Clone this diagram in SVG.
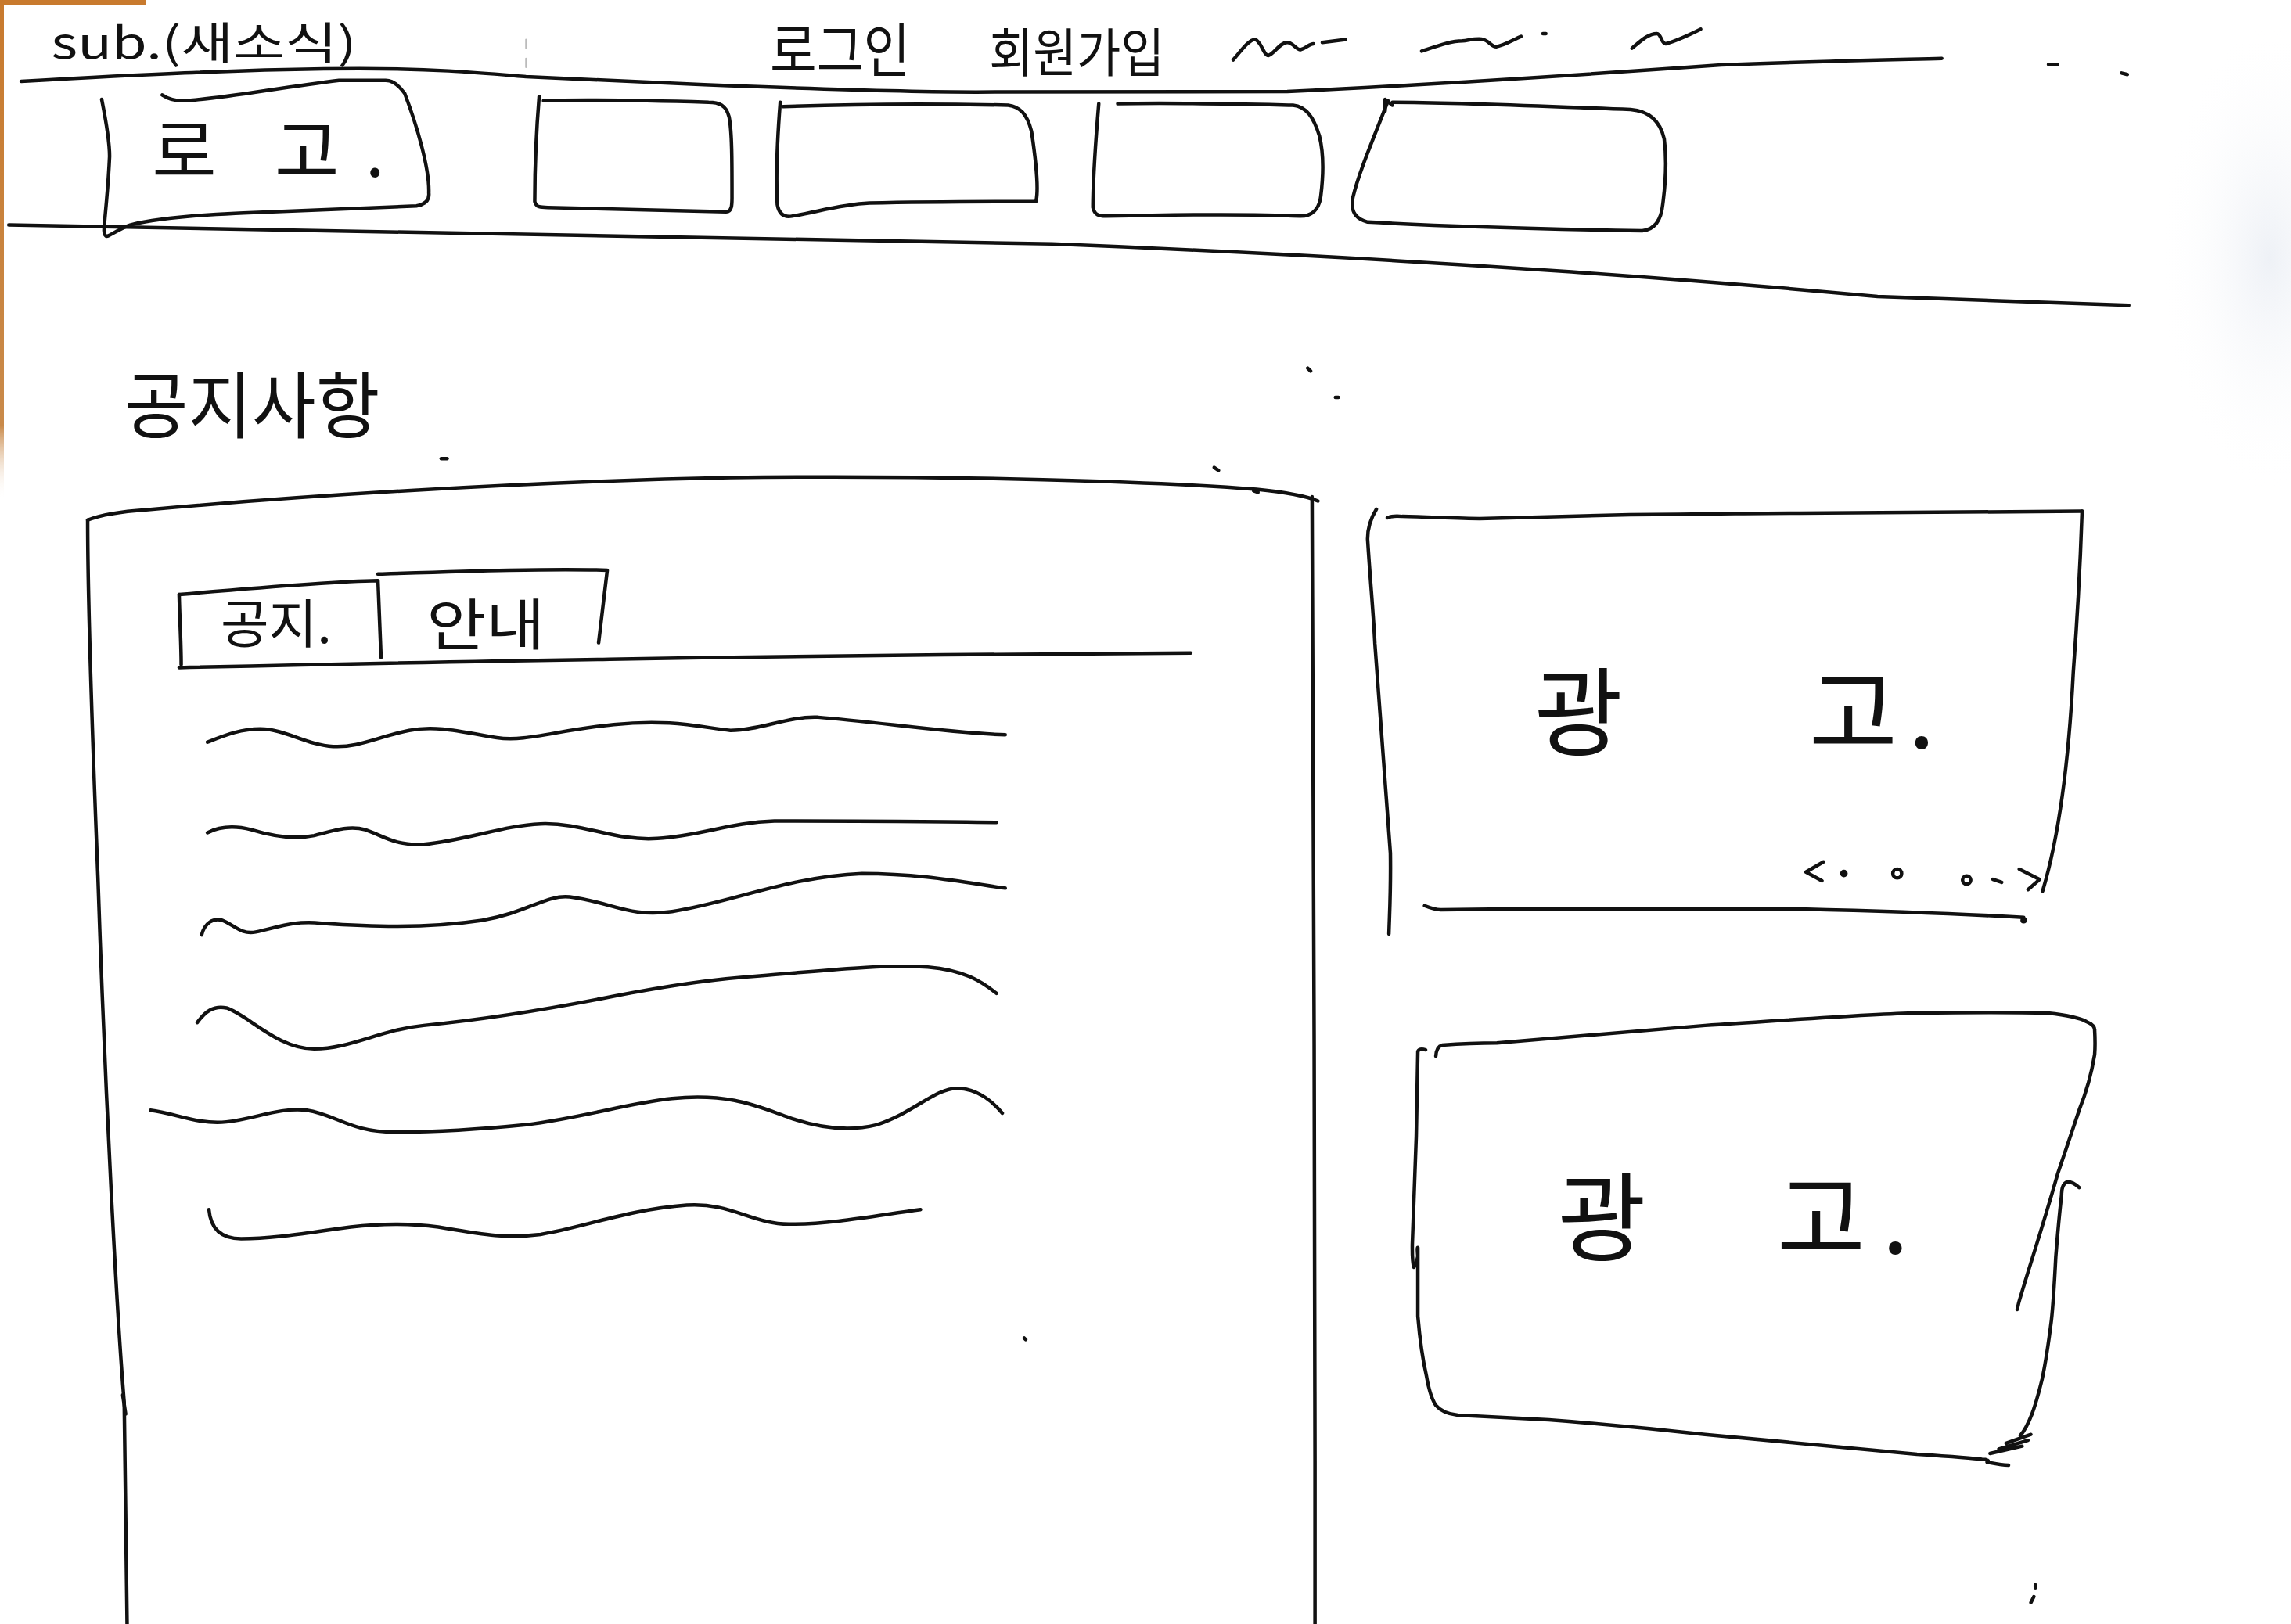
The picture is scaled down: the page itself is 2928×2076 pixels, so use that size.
<svg xmlns="http://www.w3.org/2000/svg" width="2928" height="2076" viewBox="0 0 2928 2076">
<defs>
<style>
.s{fill:none;stroke:#111;stroke-width:4.5;vector-effect:non-scaling-stroke;stroke-linecap:round;stroke-linejoin:round}
.f{fill:#111;stroke:none}
.t{font-family:"Noto Sans CJK KR","Noto Sans",sans-serif;fill:#111;font-weight:400}
</style>
<radialGradient id="shade" cx="0.5" cy="0.5" r="0.5">
<stop offset="0" stop-color="#eef1f6"/>
<stop offset="1" stop-color="#ffffff" stop-opacity="0"/>
</radialGradient>
<linearGradient id="edge" x1="0" y1="0" x2="0" y2="1">
<stop offset="0" stop-color="#c87a2e"/>
<stop offset="0.85" stop-color="#c98a4a"/>
<stop offset="1" stop-color="#ffffff" stop-opacity="0"/>
</linearGradient>
</defs>
<rect width="2928" height="2076" fill="#ffffff"/>
<rect x="0" y="0" width="187" height="6" fill="#c87a2e"/>
<rect x="0" y="0" width="5" height="640" fill="url(#edge)"/>
<ellipse cx="2900" cy="330" rx="140" ry="300" fill="url(#shade)"/>

<g transform="scale(1.86735)">
  <g id="header">
    <text class="t" x="35" y="40" font-size="30" textLength="209" lengthAdjust="spacingAndGlyphs">sub.(새소식)</text>
    <path class="s" d="M14.5,55.7 C80,52 170,47 246,47 C300,47 330,50 360,52.5 C420,55 460,57 482,58 C560,61 620,63 668,63 C760,63 830,63 881,62.7 C980,58 1100,50 1178,44.5 C1240,42 1290,41 1329,40"/>
    <path class="s" d="M360,27 L360,33 M360,40 L360,46" style="stroke:#bbb;stroke-width:2"/>
    <text class="t" x="527" y="49" font-size="40" textLength="96" lengthAdjust="spacingAndGlyphs">로그인</text>
    <text class="t" x="677" y="49" font-size="36" textLength="120" lengthAdjust="spacingAndGlyphs">회원가입</text>
    <path class="s" d="M844,41 C850,34 855,27 859,27 C863,28 865,38 868,38 C872,37 876,29 881,29 C885,29 887,34 890,34 C894,33 896,30 899,30"/>
    <path class="s" d="M905,29 L921,27"/>
    <path class="s" d="M973,35 C985,31 993,28 1001,28 C1008,27 1012,26 1015,27 C1019,28 1021,32 1024,32 C1030,31 1036,27 1041,25"/>
    <path class="s" d="M1056,23 L1058,23"/>
    <path class="s" d="M1117,33 C1123,28 1128,23 1134,23 C1137,23 1137,30 1140,30 C1148,28 1156,24 1164,20"/>
    <path class="s" d="M1402,44 L1408,44 M1452,50 L1456,51"/>
    <path class="s" d="M6,154 C200,157 450,160 720,167 C1000,178 1200,195 1285,203 C1380,206 1430,208 1457,209"/>
  </g>

  <g id="logo">
    <path class="s" d="M69.6,68 C73,85 75,100 75,107 C74,130 72,145 71.2,157 C71,160 72,163 75,161 C82,157 86,155 89,154 C110,149 140,147 161,146 C210,144 260,142 285,141 C291,140 294,137 293.5,132 C294,115 285,85 277,64 C272,57 268,55 264,55 C250,55 240,55 232,55 C190,60 150,68 125,69 C118,69 114,67 111,65"/>
    <text class="t" font-size="48" y="121"><tspan x="104">로</tspan><tspan x="188">고</tspan><tspan x="250">.</tspan></text>
  </g>

  <g id="menu1">
    <path class="s" d="M369,66 C367,90 366,115 366,138 C367,142 370,142 375,142 C420,143 465,144 497,145 C501,145 501,140 501,135 C501,110 501,90 499,80 C497,72 492,70 485,70 C450,69 400,68 372,69"/>
  </g>
  <g id="menu2">
    <path class="s" d="M534,70 C532,95 531,120 532,140 C533,146 536,149 542,148 C560,145 575,140 595,139 C640,138 680,138 709,138 C711,130 709,110 706,90 C703,78 698,73 690,72 C640,71 590,71 536,73"/>
  </g>
  <g id="menu3">
    <path class="s" d="M752,71 C750,95 748,120 748,142 C749,147 752,148 757,148 C800,147 850,146 890,148 C898,148 903,143 904,134 C906,118 906,105 903,93 C899,80 894,73 885,72 C840,71 800,70 765,71"/>
  </g>
  <g id="menu4">
    <path class="s" d="M950,69 C940,95 930,118 926,135 C924,145 928,150 936,152 C990,155 1070,157 1124,158 C1133,157 1137,150 1138,140 C1140,125 1141,110 1139,95 C1136,82 1128,76 1116,75 C1060,73 1000,70 953,70"/>
    <path class="s" d="M948,76 L948,68 L953,72"/>
  </g>

  <g id="notice-title">
    <text class="t" x="85" y="296" font-size="50" textLength="175" lengthAdjust="spacingAndGlyphs">공지사항</text>
    <path class="s" d="M302,314 L306,314"/>
  </g>

  <g id="notice-panel">
    <path class="s" d="M60,356 C70,352 85,350 100,349 C200,340 350,330 500,327 C650,325 800,330 860,335 C880,337 895,340 902,343"/>
    <path class="s" d="M60,356 C60,400 63,500 67,600 C72,750 80,900 85,960 L87,1112"/>
    <path class="s" d="M84,955 L86,968"/>
    <path class="s" d="M898,340 C900,500 899,800 900,1000 L900,1112"/>
    <path class="s" d="M831,320 L834,322 M858,336 L861,337"/>
  </g>

  <g id="tabs">
    <path class="s" d="M122.6,407 C123,425 124,440 124,455"/>
    <path class="s" d="M122.6,407 C180,402 230,398 258.7,397.5 L260.8,450"/>
    <path class="s" d="M122.6,457 C300,453 500,449 815,447"/>
    <path class="s" d="M258.7,393 C320,391 380,389 415.6,390.4 L409.7,440"/>
    <text class="t" x="151" y="440" font-size="36" textLength="76" lengthAdjust="spacingAndGlyphs">공지.</text>
    <text class="t" x="292" y="441" font-size="38" textLength="81" lengthAdjust="spacingAndGlyphs">안내</text>
  </g>

  <g id="notice-list">
    <path class="s" d="M142,508 C155,503 165,499 178,499 C195,499 210,510 228,511 C245,512 260,504 280,500 C300,496 320,502 340,505 C360,508 380,500 420,496 C460,492 480,498 500,500 C520,500 540,490 560,491 C600,494 650,502 688,503"/>
    <path class="s" d="M142,570 C150,566 160,565 172,568 C185,572 200,575 215,572 C230,568 240,565 250,568 C262,572 270,579 290,578 C320,575 345,565 370,564 C400,563 420,576 450,574 C480,572 500,563 530,562 C580,562 630,562 682,563"/>
    <path class="s" d="M138,640 C140,632 146,628 152,630 C160,633 165,640 175,638 C190,635 200,630 220,632 C250,634 290,636 330,630 C360,625 375,612 390,614 C420,618 430,628 460,624 C500,618 540,600 590,598 C630,598 660,604 688,608"/>
    <path class="s" d="M135,700 C140,693 146,688 155,690 C170,695 190,718 215,718 C240,718 260,705 290,702 C330,698 380,690 420,682 C460,674 490,670 520,668 C560,665 600,660 635,662 C660,664 672,672 682,680"/>
    <path class="s" d="M103,760 C120,762 135,770 155,768 C175,766 190,758 210,760 C230,763 240,775 270,775 C300,775 330,773 360,770 C400,765 430,755 460,752 C500,748 520,758 540,765 C560,772 580,775 600,770 C625,762 640,745 655,745 C670,745 680,755 686,762"/>
    <path class="s" d="M143,828 C144,840 150,848 165,848 C190,848 215,843 240,840 C265,837 285,838 300,840 C330,845 345,848 370,845 C400,840 430,828 470,825 C500,823 515,838 540,838 C570,838 600,832 630,828"/>
  </g>

  <g id="ad1">
    <path class="s" d="M942,348.6 C938,355 936,362 936,369 C938,400 940,420 941,440.7 C945,500 949,550 951.6,584 C952,610 951,625 950.6,639.4"/>
    <path class="s" d="M949.5,354.5 C953,353 956,353 959.7,353.5 C980,354 1000,355 1012.7,355 C1060,354 1090,353 1115.5,352.4 C1180,352 1210,351 1231.7,351.3 C1320,351 1380,350 1425,350"/>
    <path class="s" d="M1425,350 C1424,380 1422,420 1419,460 C1416,520 1410,570 1398,610"/>
    <path class="s" d="M975,620 C980,622 983,623 986.5,622.8 C1040,622 1080,622 1115.5,622.3 C1180,622 1210,622 1231.7,622.3 C1300,624 1350,626 1385,628"/>
    <circle class="f" cx="1385" cy="630" r="2.2"/>
    <text class="t" font-size="66" y="512"><tspan x="1050">광</tspan><tspan x="1238">고</tspan><tspan x="1306">.</tspan></text>
    <path class="s" d="M1248,590 L1236,597 L1247,603"/>
    <circle class="f" cx="1262" cy="598" r="2.6"/>
    <circle class="s" cx="1298.5" cy="598" r="3"/>
    <circle class="s" cx="1346" cy="602.5" r="2.8"/>
    <path class="s" d="M1364,602 L1370,604"/>
    <path class="s" d="M1382,595 L1396,602 L1388,609"/>
  </g>

  <g id="ad2">
    <path class="s" d="M982.7,723 C983,718 985,716 987,715.5 C1000,714.5 1012,714 1024.5,714 C1080,709 1130,705 1167,702 C1230,698 1280,694 1312,693.5 C1350,693 1380,693 1401.5,693.5 C1415,695 1424,697 1428,699.4 C1432,701 1433.6,703 1433.6,705 C1434,712 1434,717 1433.6,722 C1431,738 1427,750 1423,760 C1418,775 1413,790 1408.5,803 C1398,840 1388,870 1381.7,891.7 L1380.6,896.5"/>
    <path class="s" d="M1423,813 C1420,810 1417,809 1415,809 C1412,810 1411,813 1411,818 C1409,835 1408,848 1407,860.6 C1406,880 1405,895 1404,904 C1402,920 1400,933 1397.7,944 C1395,955 1393,962 1390.7,968 C1388,975 1386,979 1382.7,982.7"/>
    <path class="s" d="M1373,988 L1390,982 M1368,992 L1388,986 M1362,995 L1384,990"/>
    <path class="s" d="M975.7,718.7 C973,718 971,718.5 970.4,719.7 C970,740 969.5,760 969.3,778 C968,810 967,835 966.6,852 C966.5,860 966.8,865 967.7,867.5 C969,866 970,862 970.4,860 C970,855 970,854 970.4,854 C970.4,875 970.4,890 970.4,901 C972,920 974,932 976.3,942 C978,952 980,958 982.7,962 C986,966 991,968 997.7,968.8 C1020,970 1040,971 1060,972 C1100,975 1140,979 1167,982 C1220,987 1270,992 1312,995.5 C1335,997 1350,998 1356.5,999 C1360,999 1362,1000 1360,1001 C1365,1002 1370,1003 1374.7,1003"/>
    <text class="t" font-size="66" y="858"><tspan x="1066">광</tspan><tspan x="1216">고</tspan><tspan x="1288">.</tspan></text>
  </g>

  <g id="marks">
    <path class="s" d="M895,252 L897,254 M914,272 L916,272 M701,916 L702,917 M1393,1085 L1393,1087 M1392,1093 L1390,1097"/>
  </g>
  <g id="connectors"/>
</g>
</svg>
